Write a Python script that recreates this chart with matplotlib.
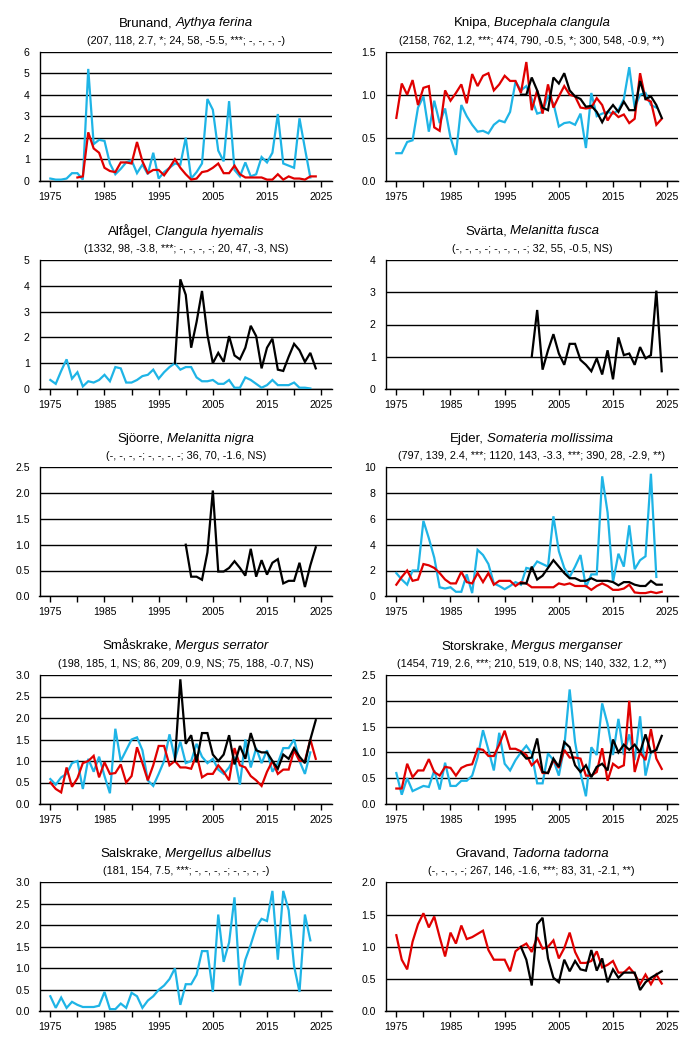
import numpy as np
import matplotlib
matplotlib.use("Agg")
import matplotlib.pyplot as plt

plt.rcParams['font.family'] = ['Liberation Sans', 'DejaVu Sans']

CYAN = '#1EB4E6'
RED = '#E00000'
BLACK = '#000000'

# ---------------- data ----------------
brunand_cyan_start = 1975
brunand_cyan = [0.1,0.05,0.05,0.1,0.35,0.35,0.05,5.2,1.7,1.9,
                1.85,0.8,0.3,0.55,0.85,0.95,0.35,0.75,0.3,1.3,
                0.1,0.4,0.6,0.8,0.75,2.0,0.1,0.4,0.8,3.8,
                3.3,1.4,0.9,3.7,0.5,0.2,0.85,0.2,0.3,1.1,
                0.85,1.3,3.1,0.8,0.7,0.6,2.9,1.5,0.15]
brunand_red_start = 1980
brunand_red = [0.15,0.2,2.25,1.5,1.3,0.6,0.45,0.4,0.85,0.85,
               0.8,1.8,0.9,0.35,0.5,0.5,0.25,0.6,1.0,0.6,
               0.3,0.05,0.1,0.4,0.45,0.6,0.8,0.35,0.35,0.7,
               0.3,0.15,0.15,0.15,0.15,0.05,0.05,0.3,0.05,0.2,
               0.1,0.1,0.05,0.2,0.2]

knipa_red_start = 1975
knipa_red = [0.73,1.13,1.0,1.17,0.88,1.08,1.1,0.62,0.58,1.05,
             0.93,1.02,1.12,0.9,1.24,1.1,1.22,1.25,1.05,1.12,
             1.22,1.16,1.16,1.02,1.38,0.82,1.05,0.78,1.12,0.85,
             0.98,1.1,1.0,0.98,0.85,0.84,0.85,0.96,0.88,0.7,
             0.8,0.74,0.77,0.67,0.72,1.25,0.95,0.92,0.65,0.72]
knipa_cyan_start = 1975
knipa_cyan = [0.32,0.32,0.45,0.47,0.85,0.98,0.57,0.93,0.67,0.84,
              0.5,0.3,0.88,0.75,0.65,0.57,0.58,0.55,0.65,0.7,
              0.68,0.8,1.15,1.05,1.1,0.95,0.78,0.8,0.98,0.9,
              0.63,0.67,0.68,0.65,0.78,0.38,1.02,0.75,0.78,0.8,
              0.78,0.82,0.95,1.32,0.85,1.0,1.02,0.88,0.85]
knipa_black_start = 1998
knipa_black = [1.0,1.0,1.2,1.05,0.85,0.82,1.2,1.13,1.25,1.05,
               0.98,0.95,0.86,0.87,0.8,0.68,0.8,0.88,0.8,0.92,
               0.82,0.82,1.16,0.95,0.98,0.88,0.73]

alfagel_cyan_start = 1975
alfagel_cyan = [0.35,0.2,0.7,1.15,0.4,0.65,0.1,0.3,0.25,0.35,
                0.55,0.3,0.85,0.8,0.25,0.25,0.35,0.5,0.55,0.75,
                0.4,0.65,0.85,1.0,0.75,0.85,0.85,0.45,0.3,0.3,
                0.35,0.2,0.2,0.35,0.05,0.05,0.45,0.35,0.2,0.05,
                0.15,0.35,0.15,0.15,0.15,0.25,0.05,0.05,0.02]
alfagel_black_start = 1998
alfagel_black = [1.0,4.25,3.65,1.6,2.6,3.8,2.1,1.0,1.4,1.05,
                 2.05,1.3,1.15,1.6,2.45,2.05,0.8,1.6,1.95,0.75,
                 0.7,1.25,1.75,1.5,1.05,1.4,0.8]

svarta_black_start = 2000
svarta_black = [1.0,2.45,0.6,1.2,1.7,1.1,0.75,1.4,1.4,0.9,
                0.75,0.55,0.95,0.45,1.2,0.3,1.6,1.05,1.1,0.75,
                1.3,0.95,1.05,3.05,0.55]

sjoorre_black_start = 2000
sjoorre_black = [1.0,0.38,0.38,0.32,0.85,2.05,0.48,0.48,0.55,0.68,
                 0.55,0.4,0.92,0.38,0.7,0.42,0.65,0.72,0.25,0.3,
                 0.3,0.65,0.18,0.6,0.95]

ejder_cyan_start = 1975
ejder_cyan = [1.8,1.3,0.9,2.0,2.0,5.85,4.5,3.0,0.7,0.6,
              0.7,0.35,0.35,1.7,0.25,3.6,3.2,2.5,1.0,0.8,
              0.55,0.8,1.1,0.9,2.2,2.1,2.7,2.5,2.3,6.2,
              3.5,2.2,1.5,2.3,3.2,0.7,1.7,1.7,9.3,6.5,
              1.1,3.3,2.3,5.5,2.1,2.8,3.1,9.5,1.5]
ejder_red_start = 1975
ejder_red = [0.9,1.5,2.0,1.2,1.3,2.5,2.4,2.2,1.8,1.3,
             1.0,1.0,1.9,1.1,1.0,1.8,1.1,1.8,0.9,1.2,
             1.2,1.2,0.8,1.1,1.0,0.7,0.7,0.7,0.7,0.7,
             1.0,0.9,1.0,0.8,0.8,0.8,0.5,0.8,1.0,0.8,
             0.5,0.5,0.6,0.9,0.3,0.25,0.25,0.35,0.25,0.35]
ejder_black_start = 1998
ejder_black = [1.0,1.0,2.3,1.3,1.6,2.2,2.8,2.3,1.8,1.4,
               1.4,1.2,1.2,1.4,1.2,1.2,1.2,1.1,0.85,1.1,
               1.1,0.9,0.8,0.8,1.2,0.9,0.9]

smaskrake_cyan_start = 1975
smaskrake_cyan = [0.58,0.45,0.62,0.7,0.95,1.0,0.35,1.05,0.75,1.1,
                  0.65,0.25,1.75,1.0,1.25,1.5,1.55,1.25,0.55,0.42,
                  0.7,1.0,1.62,1.05,1.45,0.95,1.0,1.4,1.1,0.95,
                  1.05,0.8,0.7,0.85,1.1,0.45,1.5,0.85,1.3,0.95,
                  1.25,0.75,0.95,1.3,1.3,1.5,1.0,0.7,1.2]
smaskrake_red_start = 1975
smaskrake_red = [0.5,0.35,0.27,0.85,0.4,0.6,0.95,1.0,1.12,0.62,
                 0.97,0.7,0.72,0.92,0.5,0.65,1.32,0.95,0.55,0.9,
                 1.35,1.35,0.9,1.0,0.85,0.85,0.82,1.15,0.62,0.7,
                 0.7,0.9,0.75,0.55,1.3,0.9,0.85,0.65,0.55,0.42,
                 0.75,1.0,0.7,0.8,0.8,1.25,1.0,1.0,1.5,1.05]
smaskrake_black_start = 1998
smaskrake_black = [1.0,2.9,1.4,1.6,0.97,1.65,1.65,1.15,1.0,1.15,
                   1.6,0.92,1.35,1.05,1.65,1.25,1.2,1.2,1.0,0.82,
                   1.15,1.05,1.3,1.1,0.95,1.5,1.95]

storskrake_cyan_start = 1975
storskrake_cyan = [0.6,0.18,0.5,0.25,0.3,0.35,0.33,0.65,0.28,0.8,
                   0.35,0.35,0.45,0.45,0.55,0.9,1.43,1.05,0.65,1.38,
                   0.78,0.65,0.85,1.0,1.13,0.98,0.4,0.4,0.98,0.85,
                   0.55,1.1,2.22,1.2,0.6,0.15,1.1,0.95,1.95,1.55,
                   0.95,1.65,0.95,1.35,0.85,1.7,0.55,1.0,1.05]
storskrake_red_start = 1975
storskrake_red = [0.3,0.3,0.78,0.52,0.65,0.65,0.87,0.62,0.55,0.72,
                  0.7,0.55,0.7,0.75,0.77,1.07,1.05,0.93,0.93,1.15,
                  1.42,1.07,1.07,1.02,0.95,0.75,0.85,0.6,0.6,0.85,
                  0.7,1.05,0.9,0.9,0.88,0.55,0.55,0.62,1.08,0.45,
                  0.78,0.7,0.75,2.0,0.62,1.0,0.85,1.45,0.88,0.68]
storskrake_black_start = 1998
storskrake_black = [1.0,0.88,0.9,1.27,0.62,0.6,0.88,0.72,1.2,1.1,
                    0.75,0.62,0.75,0.52,0.72,0.78,0.65,1.25,1.0,1.15,
                    1.05,1.15,1.0,1.35,1.0,1.05,1.32]

salskrake_cyan_start = 1975
salskrake_cyan = [0.35,0.08,0.32,0.08,0.22,0.15,0.1,0.1,0.1,0.13,
                  0.45,0.05,0.05,0.18,0.08,0.43,0.35,0.08,0.25,0.35,
                  0.5,0.6,0.75,1.0,0.15,0.63,0.63,0.85,1.4,1.4,
                  0.45,2.25,1.15,1.6,2.65,0.6,1.2,1.55,1.95,2.15,
                  2.1,2.8,1.2,2.8,2.35,1.05,0.45,2.25,1.65]

gravand_red_start = 1975
gravand_red = [1.18,0.8,0.65,1.08,1.35,1.52,1.3,1.47,1.15,0.85,
               1.22,1.05,1.33,1.12,1.15,1.2,1.25,0.95,0.8,0.8,
               0.8,0.62,0.93,1.0,1.05,0.92,1.15,0.97,1.0,1.1,
               0.82,0.98,1.22,0.92,0.75,0.75,0.78,0.93,0.68,0.72,
               0.78,0.6,0.6,0.68,0.58,0.42,0.57,0.42,0.57,0.43]
gravand_black_start = 1998
gravand_black = [1.0,0.8,0.4,1.35,1.45,0.82,0.52,0.45,0.8,0.62,
                 0.78,0.65,0.63,0.95,0.63,0.82,0.45,0.65,0.52,0.6,
                 0.6,0.6,0.33,0.45,0.52,0.57,0.62]

swedish_names = ["Brunand", "Knipa", "Alfågel", "Svärta", "Sjöorre",
                 "Ejder", "Småskrake", "Storskrake", "Salskrake", "Gravand"]
latin_names = ["Aythya ferina", "Bucephala clangula", "Clangula hyemalis",
               "Melanitta fusca", "Melanitta nigra", "Somateria mollissima",
               "Mergus serrator", "Mergus merganser", "Mergellus albellus",
               "Tadorna tadorna"]
subtitles = [
    "(207, 118, 2.7, *; 24, 58, -5.5, ***; -, -, -, -)",
    "(2158, 762, 1.2, ***; 474, 790, -0.5, *; 300, 548, -0.9, **)",
    "(1332, 98, -3.8, ***; -, -, -, -; 20, 47, -3, NS)",
    "(-, -, -, -; -, -, -, -; 32, 55, -0.5, NS)",
    "(-, -, -, -; -, -, -, -; 36, 70, -1.6, NS)",
    "(797, 139, 2.4, ***; 1120, 143, -3.3, ***; 390, 28, -2.9, **)",
    "(198, 185, 1, NS; 86, 209, 0.9, NS; 75, 188, -0.7, NS)",
    "(1454, 719, 2.6, ***; 210, 519, 0.8, NS; 140, 332, 1.2, **)",
    "(181, 154, 7.5, ***; -, -, -, -; -, -, -, -)",
    "(-, -, -, -; 267, 146, -1.6, ***; 83, 31, -2.1, **)",
]
y_max = [6, 1.5, 5, 4, 2.5, 10, 3.0, 2.5, 3.0, 2.0]
y_step = [1, 0.5, 1, 1, 0.5, 2, 0.5, 0.5, 0.5, 0.5]
y_decimals = [0, 1, 0, 0, 1, 0, 1, 1, 1, 1]
x_tick_labels = [1975, 1985, 1995, 2005, 2015, 2025]

series = [
    [(brunand_cyan_start, brunand_cyan, CYAN), (brunand_red_start, brunand_red, RED)],
    [(knipa_cyan_start, knipa_cyan, CYAN), (knipa_red_start, knipa_red, RED),
     (knipa_black_start, knipa_black, BLACK)],
    [(alfagel_cyan_start, alfagel_cyan, CYAN), (alfagel_black_start, alfagel_black, BLACK)],
    [(svarta_black_start, svarta_black, BLACK)],
    [(sjoorre_black_start, sjoorre_black, BLACK)],
    [(ejder_cyan_start, ejder_cyan, CYAN), (ejder_red_start, ejder_red, RED),
     (ejder_black_start, ejder_black, BLACK)],
    [(smaskrake_cyan_start, smaskrake_cyan, CYAN), (smaskrake_red_start, smaskrake_red, RED),
     (smaskrake_black_start, smaskrake_black, BLACK)],
    [(storskrake_cyan_start, storskrake_cyan, CYAN), (storskrake_red_start, storskrake_red, RED),
     (storskrake_black_start, storskrake_black, BLACK)],
    [(salskrake_cyan_start, salskrake_cyan, CYAN)],
    [(gravand_red_start, gravand_red, RED), (gravand_black_start, gravand_black, BLACK)],
]

# ---------------- layout ----------------
W, H = 692, 1038
fig = plt.figure(figsize=(W / 100, H / 100), dpi=100)
lefts = [39.5, 385.5]
ax_w = 292.5
tops = [51.7, 260.0, 467.3, 675.0, 882.3]
ax_h = 129.0

renderer = fig.canvas.get_renderer()

def text_w(s, **kw):
    t = fig.text(0, 0, s, **kw)
    w = t.get_window_extent(renderer).width
    t.remove()
    return w

TITLE_FS = 9.5
SUB_FS = 7.8
TICK_FS = 7.6

for i in range(10):
    row, col = divmod(i, 2)
    lp = lefts[col]
    tp = tops[row]
    ax = fig.add_axes([lp / W, 1 - (tp + ax_h) / H, ax_w / W, ax_h / H])
    for start, vals, color in series[i]:
        yrs = np.arange(start, start + len(vals))
        ax.plot(yrs, vals, color=color, lw=1.6, solid_joinstyle='miter', zorder=3)
    ax.set_xlim(1973, 2027)
    ax.set_ylim(0, y_max[i])
    yt = np.arange(0, y_max[i] + y_step[i] / 2, y_step[i])
    ax.set_yticks(yt)
    ax.set_yticklabels([f"{v:.{y_decimals[i]}f}" for v in yt])
    ax.set_xticks(np.arange(1975, 2026, 5))
    ax.set_xticklabels([str(y) if y in x_tick_labels else "" for y in range(1975, 2026, 5)])
    ax.grid(axis='y', color='black', lw=1.0, zorder=1)
    ax.set_axisbelow(True)
    for s in ['top', 'right']:
        ax.spines[s].set_visible(False)
    for s in ['left', 'bottom']:
        ax.spines[s].set_linewidth(1.0)
    ax.tick_params(axis='y', length=0, pad=7, labelsize=TICK_FS, colors='black')
    ax.tick_params(axis='x', length=4, width=1.0, direction='out', pad=4,
                   labelsize=TICK_FS, colors='black')

    # titles (normal Swedish name + italic Latin name)
    cx = lp + ax_w / 2
    normal = swedish_names[i] + ","
    italic = latin_names[i]
    w1 = text_w(normal, fontsize=TITLE_FS)
    ws = 0.8 * (text_w("a a", fontsize=TITLE_FS) - text_w("aa", fontsize=TITLE_FS))
    w2 = text_w(italic, fontsize=TITLE_FS, style='italic')
    x0 = cx - (w1 + ws + w2) / 2
    yb = tp - 25.5
    fig.text(x0 / W, 1 - yb / H, normal, fontsize=TITLE_FS, ha='left', va='baseline')
    fig.text((x0 + w1 + ws) / W, 1 - yb / H, italic, fontsize=TITLE_FS,
             style='italic', ha='left', va='baseline')
    fig.text(cx / W, 1 - (tp - 11) / H, subtitles[i], fontsize=SUB_FS,
             ha='center', va='center')

fig.savefig("out.png", dpi=100)
